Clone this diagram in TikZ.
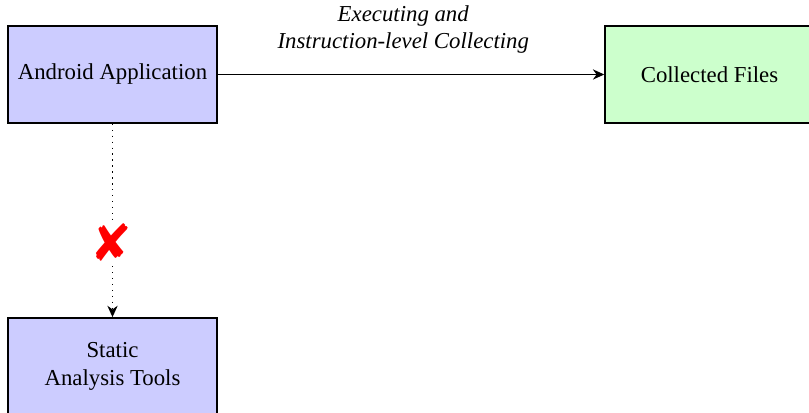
\documentclass[tikz,border=0pt]{standalone}
\usepackage{fontspec}
\setmainfont{Liberation Serif}
\usepackage{pifont}
\usetikzlibrary{arrows.meta}
\definecolor{appblue}{RGB}{204,204,255}
\definecolor{filegreen}{RGB}{204,255,204}
\tikzset{
  stagebox/.style={draw,thick,minimum width=91.5pt,minimum height=42.5pt,inner sep=2pt},
  flow/.style={semithick,-{Stealth[length=5pt,width=4.5pt]}}
}
\newcommand{\nogo}{\textcolor{red}{\ding{56}}}

\begin{document}
\begin{tikzpicture}[x=0.4386pt,y=-0.4386pt]
  \useasboundingbox (0,0) rectangle (809,413);
  \node[stagebox,fill=appblue] (app) at (112.5,74.5) {Android Application};
  \node[stagebox,fill=filegreen] (files) at (709.5,74.5) {Collected Files};
  \node[stagebox,fill=appblue,align=center] (tools) at (112.5,366.5) {Static\\Analysis Tools};

  \draw[flow] (app) -- node[pos=0.48,above=5.5pt,font=\itshape,align=center]
    {Executing and\\Instruction-level Collecting} (files);
  \draw[flow,dotted] (app) -- node[pos=0.615,fill=white,font=\fontsize{23}{26}\selectfont,inner sep=1pt] {\nogo} (tools);
\end{tikzpicture}
\end{document}
